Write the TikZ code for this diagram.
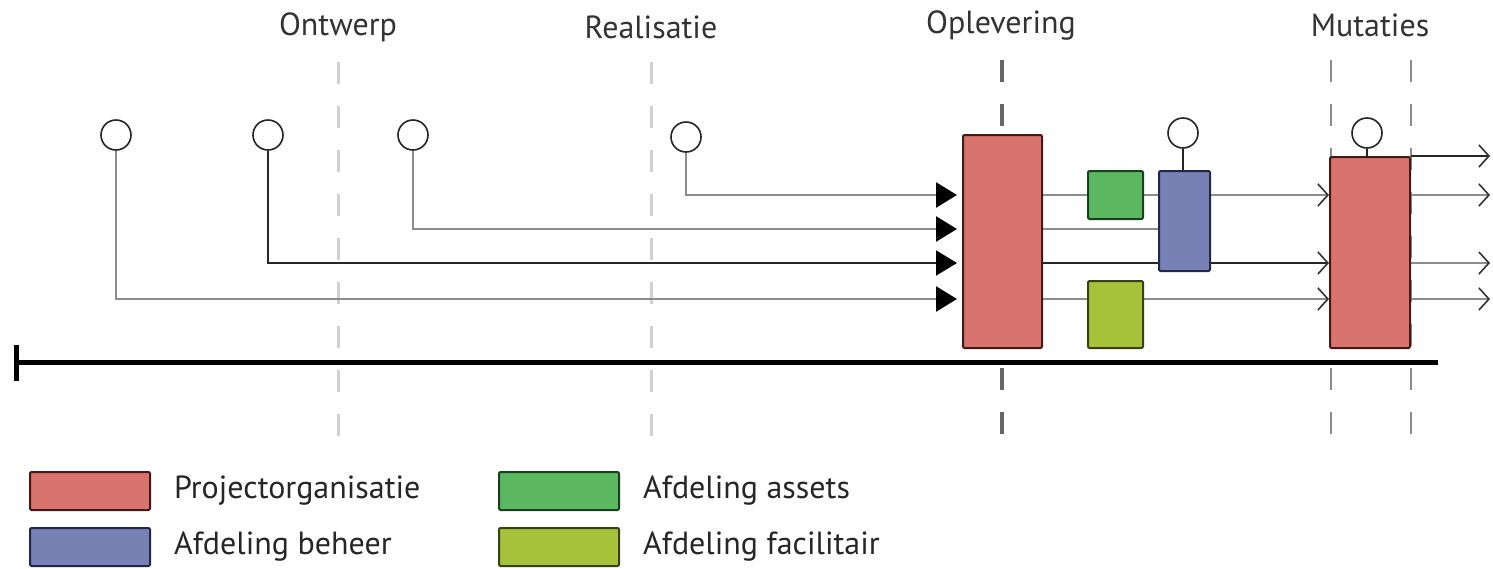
\documentclass[tikz,border=0pt]{standalone}
\usepackage{fontspec}
\setmainfont{PT Sans}
\usetikzlibrary{arrows.meta,positioning,backgrounds}
\definecolor{ProjRed}{RGB}{217,115,110}
\definecolor{ProjEdge}{RGB}{70,25,25}
\definecolor{AssetGreen}{RGB}{92,184,96}
\definecolor{AssetEdge}{RGB}{25,65,30}
\definecolor{BeheerBlue}{RGB}{119,129,180}
\definecolor{BeheerEdge}{RGB}{35,40,75}
\definecolor{FacilLime}{RGB}{165,194,58}
\definecolor{FacilEdge}{RGB}{55,65,20}
\definecolor{LineGray}{RGB}{140,140,140}
\definecolor{PhaseGray}{RGB}{208,208,208}
\tikzset{
  orgbox/.style={inner sep=0pt,line width=1pt,rounded corners=0.6pt},
  projnode/.style={orgbox,draw=ProjEdge,fill=ProjRed},
  assetsnode/.style={orgbox,draw=AssetEdge,fill=AssetGreen},
  beheernode/.style={orgbox,draw=BeheerEdge,fill=BeheerBlue},
  facilnode/.style={orgbox,draw=FacilEdge,fill=FacilLime},
  trigger/.style={circle,draw=black!85,fill=white,line width=0.8pt,minimum size=15pt,inner sep=0pt},
  phaselabel/.style={font=\fontsize{16}{18}\selectfont,text=black!80},
  legendtext/.style={font=\fontsize{16}{18}\selectfont,text=black!85,anchor=west},
  phaseline/.style={draw=PhaseGray,line width=1.5pt,dash pattern=on 11pt off 11pt},
  feed/.style={draw=LineGray,line width=1.3pt},
  feedmain/.style={draw=black!85,line width=1pt},
  intoproj/.style={-{Triangle[length=10.5pt,width=12.5pt,color=black]},shorten >=2.5pt},
  handover/.style={-{Straight Barb[length=5pt,width=11pt,line width=0.8pt,color=black!80]}}
}
\begin{document}
\begin{tikzpicture}[x=0.5pt,y=-0.5pt]
\useasboundingbox (0,0) rectangle (1493,568);

\node[phaselabel] (ontwerp) at (338,27) {Ontwerp};
\node[phaselabel] (realisatie) at (651,27) {Realisatie};
\node[phaselabel] (oplevering) at (1001,25) {Oplevering};
\node[phaselabel] (mutaties) at (1370,25) {Mutaties};

% tijdlijn
\draw[line width=2.5pt] (16,362) -- (1438,362);
\draw[line width=2.5pt] (16,345) -- (16,381);

\coordinate (l1) at (0,195);
\coordinate (l2) at (0,229);
\coordinate (l3) at (0,263);
\coordinate (l4) at (0,299);
\coordinate (out) at (1490,0);

\node[projnode,minimum width=39.5pt,minimum height=106.5pt] (proj1) at (1002.5,241.5) {};
\node[assetsnode,minimum width=27.5pt,minimum height=24pt] (assets) at (1115.5,195) {};
\node[beheernode,minimum width=25.5pt,minimum height=50pt] (beheer) at (1184.5,221) {};
\node[facilnode,minimum width=27.5pt,minimum height=33.5pt] (facil) at (1115.5,314.5) {};
\node[projnode,minimum width=40pt,minimum height=95.5pt] (proj2) at (1370,252.5) {};

\node[trigger] (t1) at (116,135) {};
\node[trigger] (t2) at (268,135) {};
\node[trigger] (t3) at (413,135) {};
\node[trigger] (t4) at (686,137) {};
\node[trigger] (t5) at (1183,133) {};
\node[trigger] (t6) at (1367,133) {};

\begin{scope}[on background layer]
\draw[phaseline] (338,62) -- (338,436);
\draw[phaseline] (651,62) -- (651,436);
\draw[phaseline,draw=black!60,line width=2pt] (1002,60) -- (1002,436);
\draw[phaseline,draw=black!45,line width=0.8pt] (1331,60) -- (1331,436);
\draw[phaseline,draw=black!45,line width=0.8pt] (1411,60) -- (1411,436);

\draw[feed,intoproj] (t4) |- (proj1.west |- l1);
\draw[feed,intoproj] (t3) |- (proj1.west |- l2);
\draw[feedmain,intoproj] (t2) |- (proj1.west |- l3);
\draw[feed,intoproj] (t1) |- (proj1.west |- l4);

\draw[feed] (proj1.east |- l1) -- (assets.west);
\draw[feed] (assets.east) -- (beheer.west |- l1);
\draw[feed] (proj1.east |- l2) -- (beheer.west |- l2);
\draw[feedmain] (proj1.east |- l3) -- (beheer.west |- l3);
\draw[feed] (proj1.east |- l4) -- (facil.west |- l4);
\draw[feed,draw=black!85,line width=0.8pt] (t5) -- (t5 |- beheer.north);

\draw[feed,handover] (beheer.east |- l1) -- (proj2.west |- l1);
\draw[feedmain,handover] (beheer.east |- l3) -- (proj2.west |- l3);
\draw[feed,handover] (facil.east |- l4) -- (proj2.west |- l4);
\draw[feed,draw=black!85,line width=0.8pt] (t6) -- (t6 |- proj2.north);

\draw[feedmain,handover] (proj2.north east) -- (out |- proj2.north east);
\draw[feed,handover] (proj2.east |- l1) -- (out |- l1);
\draw[feed,handover] (proj2.east |- l3) -- (out |- l3);
\draw[feed,handover] (proj2.east |- l4) -- (out |- l4);
\end{scope}

% legenda
\node[projnode,minimum width=60pt,minimum height=19pt] (legproj) at (90,491) {};
\node[beheernode,minimum width=60pt,minimum height=19pt] (legbeheer) at (90,547) {};
\node[assetsnode,minimum width=60pt,minimum height=19pt] (legassets) at (559,491) {};
\node[facilnode,minimum width=60pt,minimum height=19pt] (legfacil) at (559,547) {};
\node[legendtext,right=8pt of legproj] {Projectorganisatie};
\node[legendtext,right=8pt of legbeheer] {Afdeling beheer};
\node[legendtext,right=8pt of legassets] {Afdeling assets};
\node[legendtext,right=8pt of legfacil] {Afdeling facilitair};
\end{tikzpicture}
\end{document}
